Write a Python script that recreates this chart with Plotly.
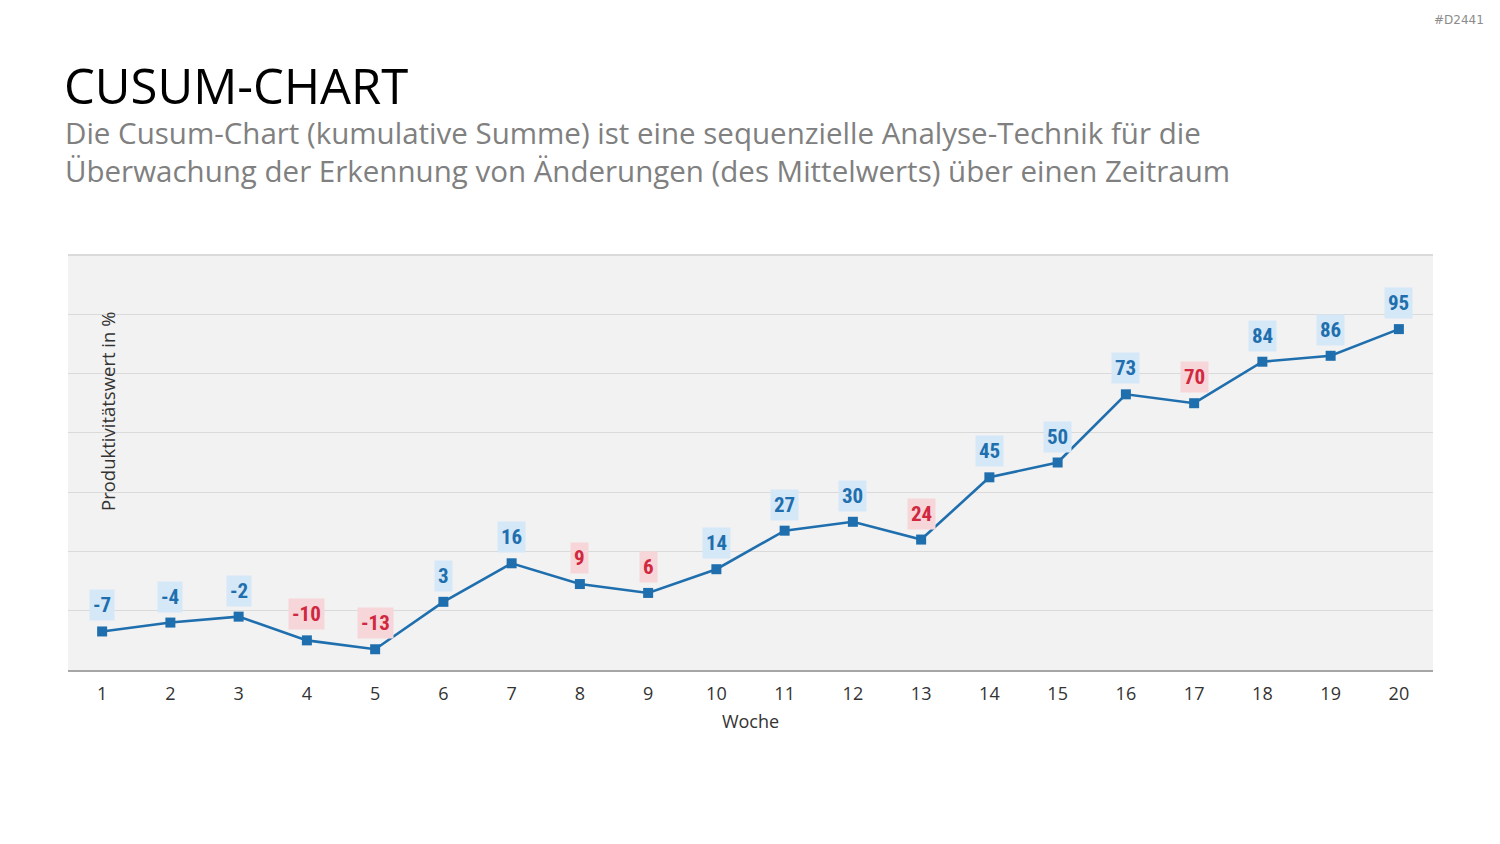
import plotly.graph_objects as go

weeks = list(range(1, 21))
values = [-7, -4, -2, -10, -13, 3, 16, 9, 6, 14, 27, 30, 24, 45, 50, 73, 70, 84, 86, 95]

title_text = "CUSUM-CHART"
subtitle_lines = [
    "Die Cusum-Chart (kumulative Summe) ist eine sequenzielle Analyse-Technik für die",
    "Überwachung der Erkennung von Änderungen (des Mittelwerts) über einen Zeitraum",
]
y_title = "Produktivitätswert in %"
x_title = "Woche"

LINE = "#1f6fae"
UP_TXT, UP_BG = "#1f6fae", "#d5e8f7"
DN_TXT, DN_BG = "#d0283e", "#f7d6da"
LABEL_FONT = "'Liberation Sans Narrow', 'Roboto Condensed', 'DejaVu Sans Condensed', 'Arial Narrow', sans-serif"

fig = go.Figure()
fig.add_trace(go.Scatter(
    x=weeks, y=values, mode="lines+markers",
    line=dict(color=LINE, width=2.6),
    marker=dict(symbol="square", size=10, color=LINE),
    hoverinfo="x+y", showlegend=False,
))

annotations = []
prev = None
for w, v in zip(weeks, values):
    down = prev is not None and v < prev
    annotations.append(dict(
        x=w, y=v, xref="x", yref="y", text=f"<b>{v}</b>", showarrow=False,
        yanchor="bottom", yshift=10,
        font=dict(family=LABEL_FONT, size=21, color=DN_TXT if down else UP_TXT),
        bgcolor=DN_BG if down else UP_BG, borderpad=3,
    ))
    prev = v

annotations += [
    dict(x=-0.0045, xref="paper", y=(844 - 85 - 174) / 415, yref="paper",
         text=title_text, showarrow=False, xanchor="left", yanchor="middle",
         font=dict(family="Open Sans", size=49, color="#000000")),
    dict(x=-0.0035, xref="paper", y=(844 - 152 - 174) / 415, yref="paper",
         text="<br>".join(subtitle_lines), showarrow=False, xanchor="left", yanchor="middle",
         align="left",
         font=dict(family="Open Sans", size=29.5, color="#808080")),
    dict(x=(107 - 68) / 1365, xref="paper", y=(670 - 412) / 415, yref="paper",
         text=y_title, showarrow=False, textangle=-90, xanchor="center", yanchor="middle",
         font=dict(family="Open Sans", size=18.5, color="#333333")),
    dict(x=(1486 - 68) / 1365, xref="paper", y=(844 - 20 - 174) / 415, yref="paper",
         text="#D2441", showarrow=False, xanchor="right", yanchor="middle",
         font=dict(family="DejaVu Sans", size=12, color="#8c8c8c")),
]

fig.update_layout(
    width=1500, height=844,
    margin=dict(l=68, r=67, t=255, b=174),
    paper_bgcolor="white", plot_bgcolor="#f2f2f2",
    annotations=annotations,
    xaxis=dict(
        range=[0.5, 20.5], tickmode="array", tickvals=weeks, ticktext=[str(w) for w in weeks],
        showgrid=False, zeroline=False, showline=True, linecolor="#a6a6a6", linewidth=2,
        tickfont=dict(family="Open Sans", size=18, color="#333333"),
        ticklabelstandoff=6,
        title=dict(text=x_title, font=dict(family="Open Sans", size=18, color="#333333"), standoff=12),
        ticks="", fixedrange=True,
    ),
    yaxis=dict(
        range=[-20, 120], tickmode="array", tickvals=[-20, 0, 20, 40, 60, 80, 100, 120],
        showticklabels=False, showgrid=True, gridcolor="#dadada", gridwidth=1,
        zeroline=False, showline=False, ticks="", fixedrange=True,
    ),
    shapes=[dict(type="line", xref="paper", yref="paper", x0=0, x1=1, y0=1, y1=1,
                 line=dict(color="#dadada", width=2))],
)

fig.write_html("out.html")
